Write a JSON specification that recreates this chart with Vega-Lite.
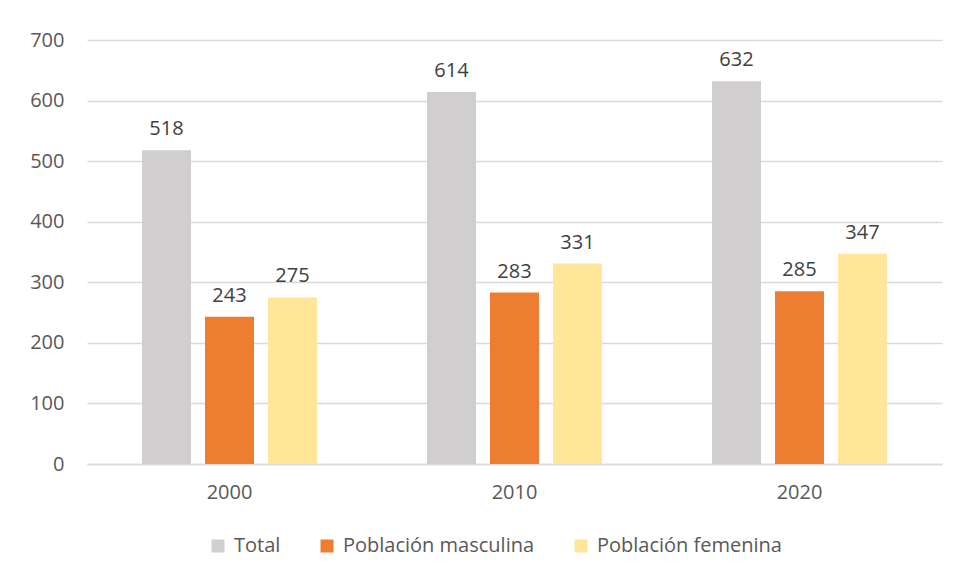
{
  "$schema": "https://vega.github.io/schema/vega-lite/v6.json",
  "autosize": "none",
  "width": 855,
  "height": 424,
  "padding": {"left": 87, "top": 40, "right": 14, "bottom": 116},
  "background": "white",
  "config": {
    "font": "Open Sans",
    "view": {"stroke": null},
    "axis": {"labelColor": "#595959", "labelFontSize": 20, "labelFont": "Open Sans", "title": null}
  },
  "data": {
    "values": [
      {"year": "2000", "serie": "Total", "value": 518},
      {"year": "2000", "serie": "Población masculina", "value": 243},
      {"year": "2000", "serie": "Población femenina", "value": 275},
      {"year": "2010", "serie": "Total", "value": 614},
      {"year": "2010", "serie": "Población masculina", "value": 283},
      {"year": "2010", "serie": "Población femenina", "value": 331},
      {"year": "2020", "serie": "Total", "value": 632},
      {"year": "2020", "serie": "Población masculina", "value": 285},
      {"year": "2020", "serie": "Población femenina", "value": 347}
    ]
  },
  "encoding": {
    "x": {
      "field": "year", "type": "nominal",
      "scale": {"paddingInner": 0, "paddingOuter": 0},
      "axis": {"labelAngle": 0, "ticks": false, "domainColor": "#D9D9D9", "domainWidth": 1.5, "labelPadding": 18, "grid": false}
    },
    "xOffset": {
      "field": "serie", "type": "nominal",
      "sort": ["Total", "Población masculina", "Población femenina"],
      "scale": {"paddingInner": 0.222, "paddingOuter": 0.873}
    },
    "y": {
      "field": "value", "type": "quantitative",
      "scale": {"domain": [0, 700], "nice": false},
      "axis": {"values": [0, 100, 200, 300, 400, 500, 600, 700], "domain": false, "ticks": false, "gridColor": "#D9D9D9", "gridWidth": 1.5, "labelPadding": 23}
    }
  },
  "layer": [
    {
      "mark": {"type": "bar"},
      "encoding": {
        "color": {
          "field": "serie", "type": "nominal",
          "sort": ["Total", "Población masculina", "Población femenina"],
          "scale": {"domain": ["Total", "Población masculina", "Población femenina"], "range": ["#D0CECE", "#ED7D31", "#FFE699"]},
          "legend": {
            "title": null, "orient": "none", "direction": "horizontal",
            "legendX": 121, "legendY": 496,
            "symbolType": "square", "symbolSize": 169, "symbolStrokeWidth": 0,
            "labelFontSize": 20, "labelColor": "#595959", "labelFont": "Open Sans", "labelLimit": 0,
            "columnPadding": 36, "labelOffset": 6
          }
        }
      }
    },
    {
      "mark": {"type": "text", "baseline": "bottom", "dy": -11, "fontSize": 20, "color": "#404040"},
      "encoding": {"text": {"field": "value", "type": "quantitative"}}
    }
  ]
}
